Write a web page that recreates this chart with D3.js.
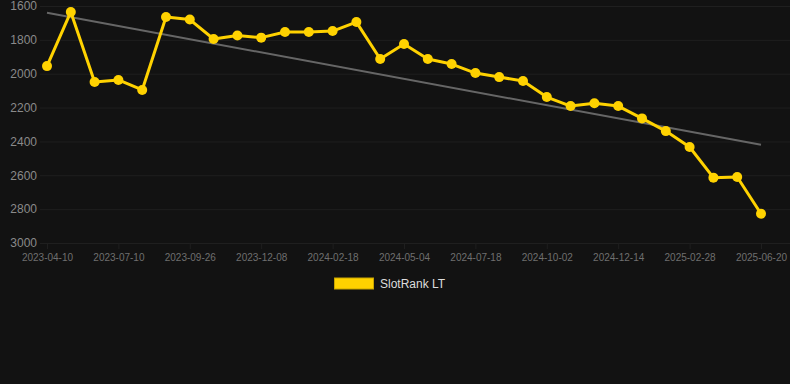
<!DOCTYPE html>
<html>
<head>
<meta charset="utf-8">
<script src="https://cdn.jsdelivr.net/npm/d3@7"></script>
<style>
  html, body { margin: 0; padding: 0; background: #121212; }
  svg { display: block; font-family: "Liberation Sans", Arial, sans-serif; }
</style>
</head>
<body>
<svg id="chart" width="790" height="384"></svg>
<script>
// dates (every third one shown on the axis)
var dates = [
    "2023-04-10", "2023-05-10", "2023-06-10", "2023-07-10", "2023-08-05", "2023-08-31",
    "2023-09-26", "2023-10-20", "2023-11-14", "2023-12-08", "2024-01-02", "2024-01-25",
    "2024-02-18", "2024-03-13", "2024-04-08", "2024-05-04", "2024-05-29", "2024-06-23",
    "2024-07-18", "2024-08-12", "2024-09-07", "2024-10-02", "2024-10-26", "2024-11-20",
    "2024-12-14", "2025-01-08", "2025-02-02", "2025-02-28", "2025-04-08", "2025-05-14",
    "2025-06-20"
];

// SlotRank LT
var ranks = [
    1955, 1635, 2049, 2037, 2096, 1665, 1680, 1795, 1774, 1787, 1754,
    1754, 1748, 1695, 1913, 1825, 1913, 1943, 1996, 2020, 2043, 2138,
    2191, 2175, 2191, 2264, 2339, 2433, 2614, 2610, 2827
];

// trend line ends
var trend = [1640, 2420];

var yTicks = [1600, 1800, 2000, 2200, 2400, 2600, 2800, 3000];

var svg = d3.select("#chart");
var plotLeft = 47, plotRight = 761, plotTop = 6, plotBottom = 243;

var xScale = d3.scalePoint().domain(dates).range([plotLeft, plotRight]);
var yScale = d3.scaleLinear().domain([1600, 3000]).range([plotTop, plotBottom]);

// grid
svg.append("g")
    .attr("transform", "translate(" + plotLeft + ",0)")
    .call(d3.axisLeft(yScale).tickValues(yTicks).tickSize(-(790 - plotLeft)).tickSizeOuter(0).tickFormat(""))
    .call(function (g) { g.select(".domain").remove(); })
    .call(function (g) {
        g.selectAll("line").attr("stroke", "#1f1f1f").attr("x1", 40 - plotLeft);
    });

var shown = dates.filter(function (d, i) { return i % 3 === 0; });

svg.append("g")
    .attr("transform", "translate(0," + plotBottom + ")")
    .call(d3.axisBottom(xScale).tickValues(shown).tickSize(-(plotBottom - plotTop)).tickSizeOuter(0).tickFormat(""))
    .call(function (g) { g.select(".domain").remove(); })
    .call(function (g) {
        g.selectAll("line").attr("stroke", "#1f1f1f").attr("y2", 6);
    });

// y labels
svg.append("g")
    .attr("transform", "translate(37,0)")
    .call(d3.axisLeft(yScale).tickValues(yTicks).tickSize(0).tickPadding(0).tickFormat(d3.format("d")))
    .call(function (g) { g.select(".domain").remove(); })
    .call(function (g) {
        g.selectAll("text").attr("fill", "#8a8a8a").style("font-size", "12px")
            .style("font-family", "'Liberation Sans', Arial, sans-serif");
    });

// x labels
svg.append("g")
    .attr("transform", "translate(0," + plotBottom + ")")
    .call(d3.axisBottom(xScale).tickValues(shown).tickSize(0).tickPadding(11))
    .call(function (g) { g.select(".domain").remove(); })
    .call(function (g) {
        g.selectAll("text").attr("fill", "#6f6f6f").style("font-size", "10px")
            .style("font-family", "'Liberation Sans', Arial, sans-serif");
    });

// trend
svg.append("line")
    .attr("x1", xScale(dates[0]))
    .attr("y1", yScale(trend[0]))
    .attr("x2", xScale(dates[dates.length - 1]))
    .attr("y2", yScale(trend[1]))
    .attr("stroke", "#666")
    .attr("stroke-width", 2);

var line = d3.line()
    .x(function (d, i) { return xScale(dates[i]); })
    .y(function (d) { return yScale(d); });

svg.append("path")
    .datum(ranks)
    .attr("fill", "none")
    .attr("stroke", "#ffd200")
    .attr("stroke-width", 3)
    .attr("stroke-linejoin", "round")
    .attr("d", line);

svg.append("g").selectAll("circle")
    .data(ranks)
    .enter().append("circle")
    .attr("cx", function (d, i) { return xScale(dates[i]); })
    .attr("cy", function (d) { return yScale(d); })
    .attr("r", 5)
    .attr("fill", "#ffd200");

// legend
svg.append("rect")
    .attr("x", 334.5).attr("y", 278)
    .attr("width", 39).attr("height", 11)
    .attr("fill", "#ffd200")
    .attr("stroke", "#c8a400")
    .attr("stroke-width", 1);

svg.append("text")
    .attr("x", 380).attr("y", 288)
    .attr("fill", "#dddddd")
    .style("font-size", "12px")
    .text("SlotRank LT");
</script>
</body>
</html>
